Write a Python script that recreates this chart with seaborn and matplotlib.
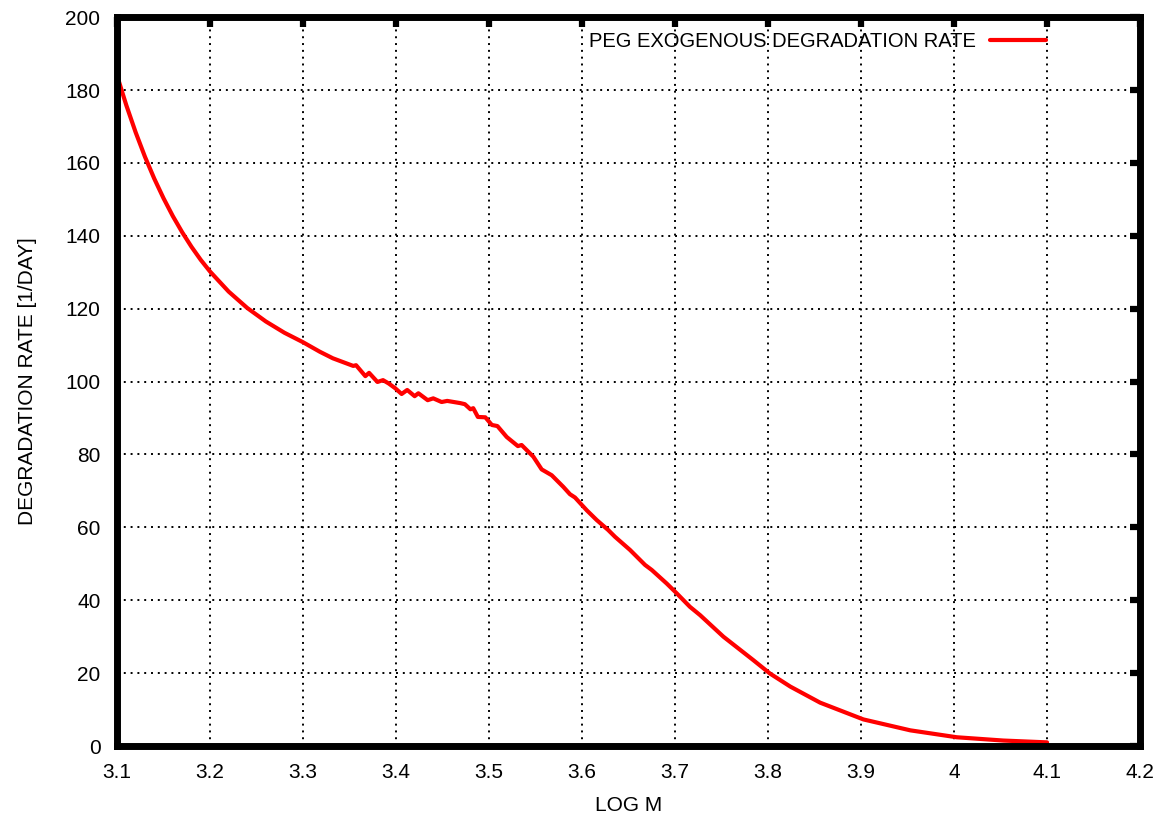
"""
PEG exogenous degradation rate vs. log molecular mass (gnuplot-style figure).
"""

import numpy as np
import pandas as pd
import matplotlib
matplotlib.use("Agg")
import matplotlib.pyplot as plt
from matplotlib.ticker import FormatStrFormatter
import seaborn as sns

# ============ DATA ============
log_m = [3.10, 3.11, 3.12, 3.13, 3.14, 3.15, 3.16, 3.17, 3.18, 3.19,
         3.20, 3.22, 3.24, 3.26, 3.28, 3.30, 3.318, 3.332, 3.354, 3.357,
         3.367, 3.371, 3.380, 3.386, 3.392, 3.399, 3.406, 3.412, 3.420, 3.424,
         3.434, 3.440, 3.449, 3.455, 3.469, 3.474, 3.480, 3.483, 3.488, 3.496,
         3.503, 3.509, 3.519, 3.531, 3.535, 3.5476, 3.5566, 3.5674, 3.5799, 3.587,
         3.5924, 3.605, 3.6158, 3.628, 3.6355, 3.6516, 3.6677, 3.675, 3.691, 3.7018,
         3.716, 3.727, 3.752, 3.784, 3.802, 3.824, 3.856, 3.9025, 3.953, 4.003,
         4.053, 4.100]
degradation_rate = [184.0, 175.8, 168.4, 161.7, 155.7, 150.3, 145.4, 141.0, 137.0, 133.4,
                    130.2, 124.7, 120.2, 116.5, 113.4, 110.8, 108.2, 106.4, 104.3, 104.5,
                    101.5, 102.4, 99.9, 100.4, 99.5, 98.2, 96.6, 97.7, 96.0, 96.8,
                    94.9, 95.4, 94.4, 94.7, 94.1, 93.8, 92.4, 92.7, 90.3, 90.2,
                    88.1, 87.8, 84.8, 82.3, 82.6, 79.4, 75.9, 74.3, 71.1, 69.1,
                    68.2, 64.7, 62.0, 59.3, 57.4, 53.8, 49.7, 48.3, 44.6, 41.9,
                    38.2, 35.9, 30.0, 23.6, 19.9, 16.3, 11.9, 7.3, 4.3, 2.4,
                    1.5, 1.0]

x_ticks = [3.1, 3.2, 3.3, 3.4, 3.5, 3.6, 3.7, 3.8, 3.9, 4.0, 4.1, 4.2]
y_ticks = [0, 20, 40, 60, 80, 100, 120, 140, 160, 180, 200]

series_label = "PEG EXOGENOUS DEGRADATION RATE"

df = pd.DataFrame({"log_m": log_m, "rate": degradation_rate})

# ============ STYLE ============
sns.set_style("white")
plt.rcParams["font.family"] = ["Liberation Sans", "DejaVu Sans"]
plt.rcParams.update({
    "text.color": "black",
    "axes.labelcolor": "black",
    "xtick.color": "black",
    "ytick.color": "black",
})

fig = plt.figure(figsize=(11.67, 8.18), dpi=100)
ax = fig.add_axes([0.1003, 0.088, 0.8766, 0.891])

# line sits under the thick frame, like gnuplot
sns.lineplot(data=df, x="log_m", y="rate", ax=ax, color="#ff0000",
             linewidth=3.0, label=series_label, zorder=2.2)

ax.set_xlim(3.1, 4.2)
ax.set_ylim(0, 200)
ax.set_xticks(x_ticks)
ax.set_yticks(y_ticks)
ax.xaxis.set_major_formatter(FormatStrFormatter("%g"))

# dotted grid
ax.grid(True, color="black", linestyle=(0, (1, 2.5)), linewidth=1.4)

# thick frame with inward mirrored ticks
for side in ["left", "right", "top", "bottom"]:
    ax.spines[side].set_visible(True)
    ax.spines[side].set_linewidth(5)
    ax.spines[side].set_color("black")
ax.tick_params(direction="in", length=7, width=4.5, top=True, right=True,
               labelsize=15, pad=12)

ax.set_xlabel("LOG M", fontsize=15, labelpad=10)
ax.set_ylabel("DEGRADATION RATE [1/DAY]", fontsize=15, labelpad=20)

leg = ax.legend(loc="upper right", frameon=False, fontsize=14.5,
                markerfirst=False, handlelength=2.8, handletextpad=0.7,
                borderaxespad=0.35, bbox_to_anchor=(0.923, 1.0))
for line in leg.get_lines():
    line.set_linewidth(3.0)

fig.savefig("out.png", dpi=100)
plt.close(fig)
